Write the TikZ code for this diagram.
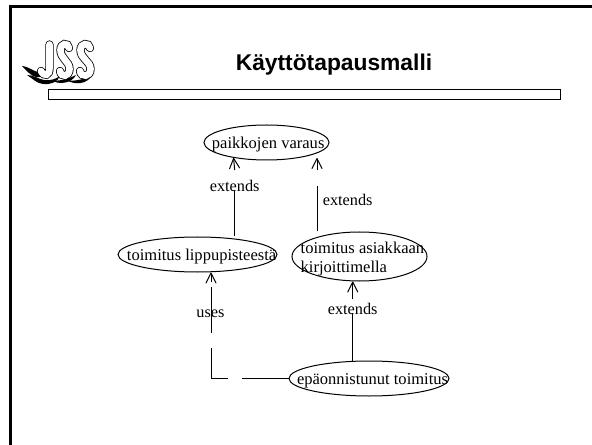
\documentclass[tikz,border=0pt]{standalone}
\usepackage{fontspec}
\setmainfont{Liberation Serif}
\newfontfamily\titlefont{Liberation Sans}
\usetikzlibrary{arrows.meta,shapes.geometric}
\tikzset{every picture/.style={line width=0.75pt}}
\tikzset{
	usecase/.style={draw,ellipse,inner sep=0pt,font=\fontsize{12.4}{14.25}\selectfont},
	lbl/.style={inner sep=0pt,anchor=base,font=\fontsize{12.2}{14}\selectfont},
	tip/.style={-{Straight Barb[length=7.5pt,width=7.5pt,round]}},
	logoline/.style={line width=0.6pt,line cap=round,double=white,double distance=5pt},
}
% text set over the ellipse, which keeps the size it was given
\newcommand{\uctext}[3]{\smash{\makebox[0pt][l]{\hskip#1\raisebox{#2}{#3}}}}

\begin{document}
\begin{tikzpicture}[x=0.75pt,y=0.75pt,yscale=-1,xscale=1]
	\useasboundingbox (0,0) rectangle (592,445);

	%Frame
	\draw [line width=2.25pt]  (10.5,445) -- (10.5,7) -- (592,7) ;
	%Title bar
	\draw  (48.5,89.5) rectangle (560.5,99.5) ;
	% Text Node
	\node (title) at (334,71) [inner sep=0pt,anchor=base,font=\titlefont\bfseries\fontsize{17.1}{20}\selectfont] {Käyttötapausmalli};

	%Logo
	\fill (22,66) .. controls (30,67) and (34,72) .. (39,72) .. controls (42,72) and (44,71) .. (46,69) .. controls (45,76) and (41,78) .. (36,77) .. controls (31,76) and (27,71) .. (22,66) -- cycle;
	\fill (27,75) .. controls (34,75) and (38,79) .. (44,80) .. controls (50,81) and (56,79) .. (60,76) .. controls (58,82) and (50,85) .. (43,84) .. controls (37,83.5) and (33,79) .. (27,75) -- cycle;
	\fill (50,80) .. controls (58,82) and (68,79) .. (76,75) .. controls (72,83) and (60,85.5) .. (50,80) -- cycle;
	\fill (66,80) .. controls (74,82) and (84,79) .. (92,76) .. controls (86,84) and (76,85.5) .. (66,80) -- cycle;
	\draw [logoline]  (49.5,44.5) -- (49.5,68) .. controls (49.5,76) and (44,77) .. (41,71) ;
	\draw [logoline]  (69,48) .. controls (68,42) and (60.5,43) .. (60.5,50) .. controls (60.5,59) and (69.5,61) .. (69.5,69) .. controls (69.5,77) and (61,78) .. (60,71) ;
	\draw [logoline]  (90,48) .. controls (89,42) and (80.5,43) .. (80.5,50) .. controls (80.5,59) and (90.5,61) .. (90.5,69) .. controls (90.5,77) and (81,78) .. (80,71) ;

	%Use cases
	\node (varaus) at (266.5,142.5) [usecase,minimum width=93.75pt,minimum height=26.25pt] {\uctext{-40.9pt}{-4.2pt}{paikkojen varaus}};
	\node (lippu) at (197.5,254.5) [usecase,minimum width=119.25pt,minimum height=26.25pt] {\uctext{-52.9pt}{-4.2pt}{toimitus lippupisteestä}};
	\node (asiakas) at (359.5,256.5) [usecase,minimum width=101.25pt,minimum height=36.75pt] {\uctext{-44.1pt}{2.2pt}{\begin{tabular}[t]{@{}l@{}}toimitus asiakkaan\\kirjoittimella\end{tabular}}};
	\node (epaonn) at (369,378.5) [usecase,minimum width=120pt,minimum height=26.25pt] {\uctext{-54pt}{-4.2pt}{epäonnistunut toimitus}};

	% Text Node
	\node (ext1) at (234.7,191.7) [lbl] {extends};
	\node (ext2) at (347.7,206) [lbl] {extends};
	\node (ext3) at (352.7,314) [lbl] {extends};
	\node (uses) at (210.5,317.3) [lbl] {uses};

	%Connectors
	\coordinate (a1) at (234.7,190);
	\coordinate (a2) at (234.7,170);
	\draw (lippu.north -| a1) -- (a1);
	\draw [tip] (a2) -- (varaus.205);

	\coordinate (b1) at (317,186);
	\coordinate (b2) at (317,170);
	\coordinate (b3) at (317,158);
	\draw (asiakas.north -| b1) -- (b1);
	\draw [tip] (b2) -- (b3);

	\coordinate (c1) at (352.7,313);
	\coordinate (c2) at (352.7,299);
	\draw (epaonn.north -| c1) -- (c1);
	\draw [tip] (c2) -- (asiakas.south -| c2);

	\coordinate (d1) at (242,378.5);
	\coordinate (d2) at (228,378.5);
	\coordinate (d3) at (211,378.5);
	\coordinate (d4) at (211,348);
	\coordinate (d5) at (211,333);
	\coordinate (d6) at (211,287);
	\coordinate (d7) at (211,282);
	\draw (epaonn.west) -- (d1);
	\draw (d2) -- (d3) -- (d4);
	\draw (d5) -- (d6);
	\draw [tip] (d7) -- (lippu.south -| d7);
\end{tikzpicture}
\end{document}
